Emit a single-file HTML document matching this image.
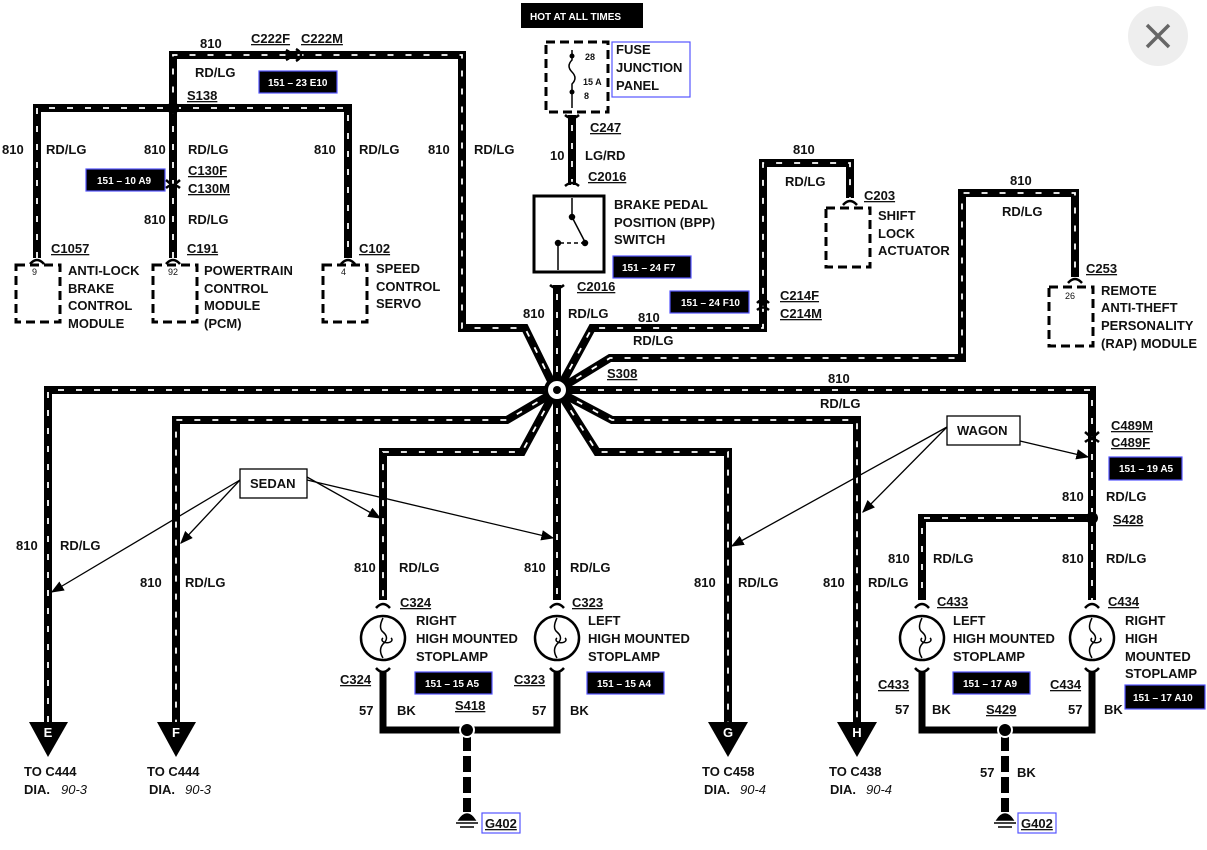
<!DOCTYPE html>
<html><head><meta charset="utf-8"><style>
html,body{margin:0;padding:0;background:#fff;}
svg{display:block;}
text{font-family:"Liberation Sans",sans-serif;font-weight:bold;font-size:13px;fill:#111;}
.w{fill:none;stroke:#000;stroke-width:8;stroke-linejoin:miter;}
.d{fill:none;stroke:#fff;stroke-width:1.8;stroke-dasharray:6 12;}
.g{fill:none;stroke:#000;stroke-width:7;}
.bx{fill:none;stroke:#000;stroke-width:3;stroke-dasharray:9 5;}
.ref{fill:#000;stroke:#55f;stroke-width:1.2;}
.rt{fill:#fff;font-size:10px;}
.ar{stroke:#000;stroke-width:1.3;fill:none;marker-end:url(#a);}
</style></head><body>
<svg width="1207" height="850" viewBox="0 0 1207 850" xmlns="http://www.w3.org/2000/svg">
<defs><marker id="a" markerWidth="10" markerHeight="8" refX="9" refY="4" orient="auto"><path d="M0,0 L10,4 L0,8 z" fill="#000"/></marker>
<path id="p1" d="M553,385 L525,328 L462,328 L462,55 L173,55 L173,108"/>
<path id="p2" d="M37,258 L37,108 L348,108 L348,258"/>
<path id="p3" d="M173,108 L173,258"/>
<path id="p4" d="M557,390 L557,285"/>
<path id="p5" d="M561,385 L592,328 L763,328 L763,163 L850,163 L850,198"/>
<path id="p6" d="M561,388 L610,358 L962,358 L962,193 L1075,193 L1075,277"/>
<path id="p7" d="M48,722 L48,390 L1092,390 L1092,600"/>
<path id="p8" d="M1092,518 L922,518 L922,600"/>
<path id="p9" d="M553,393 L507,420 L176,420 L176,722"/>
<path id="p10" d="M553,395 L522,452 L383,452 L383,600"/>
<path id="p11" d="M557,390 L557,600"/>
<path id="p12" d="M561,395 L597,452 L728,452 L728,722"/>
<path id="p13" d="M561,393 L612,420 L857,420 L857,722"/>
<path id="p14" d="M572,185 L572,115"/>
</defs>
<g class="w">
<use href="#p1"/><use href="#p2"/><use href="#p3"/><use href="#p4"/><use href="#p5"/><use href="#p6"/><use href="#p7"/><use href="#p8"/><use href="#p9"/><use href="#p10"/><use href="#p11"/><use href="#p12"/><use href="#p13"/><use href="#p14"/>
</g>
<g class="d">
<use href="#p1"/><use href="#p2"/><use href="#p3"/><use href="#p4"/><use href="#p5"/><use href="#p6"/><use href="#p7"/><use href="#p8"/><use href="#p9"/><use href="#p10"/><use href="#p11"/><use href="#p12"/><use href="#p13"/><use href="#p14"/>
</g>
<circle cx="557" cy="390" r="11" fill="#fff" stroke="#000" stroke-width="4"/>
<circle cx="557" cy="390" r="4" fill="#000"/>
<circle cx="173" cy="108" r="6" fill="#000"/>
<circle cx="1092" cy="518" r="6" fill="#000"/>

<g stroke="#000" stroke-width="2.5" fill="none">
<path d="M286,50 Q296,55 286,60 M296,49 Q306,55 296,61"/>
<path d="M166,180 L173,186 L180,180 M166,188 Q173,182 180,188"/>
<path d="M757,303 Q763,297 769,303 M757,310 Q763,305 769,310"/>
<path d="M1085,432 L1092,438 L1099,432 M1085,442 Q1092,436 1099,442"/>
<path d="M30,264 Q37,256 44,264 M166,264 Q173,256 180,264 M341,264 Q348,256 355,264 M843,205 Q850,197 857,205 M1068,283 Q1075,275 1082,283"/>
<path d="M565,115 Q572,121 579,115 M565,186 Q572,180 579,186 M550,285 Q557,291 564,285"/>
<path d="M376,608 Q383,600 390,608 M550,608 Q557,600 564,608 M915,608 Q922,600 929,608 M1085,608 Q1092,600 1099,608"/>
<path d="M376,668 Q383,676 390,668 M550,668 Q557,676 564,668 M915,668 Q922,676 929,668 M1085,668 Q1092,676 1099,668"/>
</g>

<path d="M383,672 L383,730 L557,730 L557,672" class="g"/>
<path d="M922,672 L922,730 L1092,730 L1092,672" class="g"/>
<path d="M467,735 L467,812" stroke="#000" stroke-width="8" stroke-dasharray="16 5"/>
<path d="M1005,735 L1005,812" stroke="#000" stroke-width="8" stroke-dasharray="16 5"/>
<circle cx="467" cy="730" r="7" fill="#000" stroke="#fff" stroke-width="2"/>
<circle cx="1005" cy="730" r="7" fill="#000" stroke="#fff" stroke-width="2"/>
<g fill="#000" stroke="#000" stroke-width="1.5">
<path d="M459,820 Q467,808 475,820 z"/><line x1="456" y1="823" x2="478" y2="823"/><line x1="460" y1="827" x2="474" y2="827"/>
<path d="M997,820 Q1005,808 1013,820 z"/><line x1="994" y1="823" x2="1016" y2="823"/><line x1="998" y1="827" x2="1012" y2="827"/>
</g>

<g fill="#fff" stroke="#000" stroke-width="2.5">
<circle cx="383" cy="638" r="22"/><circle cx="557" cy="638" r="22"/><circle cx="922" cy="638" r="22"/><circle cx="1092" cy="638" r="22"/>
</g>
<g fill="none" stroke="#000" stroke-width="1.5">
<path d="M383,618 Q378,628 383,632 Q390,638 383,644 Q378,650 383,658 M383,638 a5,3 0 1,0 8,0"/>
<path d="M557,618 Q552,628 557,632 Q564,638 557,644 Q552,650 557,658 M557,638 a5,3 0 1,0 8,0"/>
<path d="M922,618 Q917,628 922,632 Q929,638 922,644 Q917,650 922,658 M922,638 a5,3 0 1,0 8,0"/>
<path d="M1092,618 Q1087,628 1092,632 Q1099,638 1092,644 Q1087,650 1092,658 M1092,638 a5,3 0 1,0 8,0"/>
</g>

<g fill="#000">
<path d="M29,722 L68,722 L48,757 z"/><path d="M157,722 L196,722 L176,757 z"/>
<path d="M708,722 L748,722 L728,757 z"/><path d="M837,722 L877,722 L857,757 z"/>
</g>
<g style="font-size:11px" text-anchor="middle">
<text x="48" y="737" style="fill:#fff">E</text><text x="176" y="737" style="fill:#fff">F</text>
<text x="728" y="737" style="fill:#fff">G</text><text x="857" y="737" style="fill:#fff">H</text>
</g>

<rect x="16" y="265" width="44" height="57" class="bx"/>
<rect x="153" y="265" width="44" height="57" class="bx"/>
<rect x="323" y="265" width="44" height="57" class="bx"/>
<rect x="826" y="208" width="44" height="59" class="bx"/>
<rect x="1049" y="287" width="44" height="59" class="bx"/>
<rect x="546" y="42" width="62" height="70" class="bx"/>
<text x="32" y="275" style="font-size:9px;font-weight:normal">9</text>
<text x="168" y="275" style="font-size:9px;font-weight:normal">92</text>
<text x="341" y="275" style="font-size:9px;font-weight:normal">4</text>
<text x="1065" y="299" style="font-size:9px;font-weight:normal">26</text>
<g stroke="#000" stroke-width="1.5" fill="none"><path d="M572,50 L572,60 Q566,66 572,72 Q578,78 572,84 L572,108"/></g>
<circle cx="572" cy="56" r="2.5" fill="#000"/><circle cx="572" cy="92" r="2.5" fill="#000"/>
<text x="585" y="60" style="font-size:9px">28</text><text x="583" y="85" style="font-size:9px">15 A</text><text x="584" y="99" style="font-size:9px">8</text>
<rect x="612" y="42" width="78" height="55" fill="none" stroke="#55f" stroke-width="1.2"/>
<rect x="534" y="196" width="70" height="76" fill="none" stroke="#000" stroke-width="3"/>
<g stroke="#000" stroke-width="1.5" fill="#000">
<line x1="572" y1="198" x2="572" y2="215"/><circle cx="572" cy="217" r="2.5"/><line x1="572" y1="217" x2="585" y2="242"/><circle cx="585" cy="243" r="2.5"/>
<line x1="560" y1="243" x2="583" y2="243" stroke-dasharray="4 3"/><circle cx="558" cy="243" r="2.5"/><line x1="558" y1="243" x2="558" y2="270"/>
</g>
<rect x="521" y="3" width="122" height="25" fill="#000"/>
<text x="530" y="20" style="fill:#fff;font-size:10px">HOT AT ALL TIMES</text>

<rect x="259" y="71" width="78" height="22" class="ref"/><text x="268" y="86" class="rt">151 – 23 E10</text>
<rect x="86" y="169" width="79" height="22" class="ref"/><text x="97" y="184" class="rt">151 – 10 A9</text>
<rect x="613" y="256" width="78" height="22" class="ref"/><text x="622" y="271" class="rt">151 – 24 F7</text>
<rect x="670" y="291" width="79" height="22" class="ref"/><text x="681" y="306" class="rt">151 – 24 F10</text>
<rect x="1109" y="457" width="73" height="23" class="ref"/><text x="1119" y="472" class="rt">151 – 19 A5</text>
<rect x="415" y="672" width="77" height="22" class="ref"/><text x="425" y="687" class="rt">151 – 15 A5</text>
<rect x="587" y="672" width="77" height="22" class="ref"/><text x="597" y="687" class="rt">151 – 15 A4</text>
<rect x="953" y="672" width="77" height="22" class="ref"/><text x="963" y="687" class="rt">151 – 17 A9</text>
<rect x="1125" y="685" width="80" height="24" class="ref"/><text x="1133" y="701" class="rt">151 – 17 A10</text>

<rect x="240" y="469" width="67" height="29" fill="#fff" stroke="#000" stroke-width="1.3"/><text x="250" y="488">SEDAN</text>
<rect x="947" y="416" width="73" height="29" fill="#fff" stroke="#000" stroke-width="1.3"/><text x="957" y="435">WAGON</text>
<path class="ar" d="M240,480 L52,592"/><path class="ar" d="M240,480 L181,543"/>
<path class="ar" d="M307,477 L380,518"/><path class="ar" d="M307,480 L553,538"/>
<path class="ar" d="M947,427 L732,546"/><path class="ar" d="M947,427 L863,512"/><path class="ar" d="M1020,441 L1088,457"/>

<circle cx="1158" cy="36" r="30" fill="#eee"/>
<path d="M1147,25 L1169,47 M1169,25 L1147,47" stroke="#666" stroke-width="3.5"/>

<g>
<text x="200" y="48">810</text>
<text x="251" y="43" text-decoration="underline">C222F</text><text x="301" y="43" text-decoration="underline">C222M</text>
<text x="195" y="77">RD/LG</text>
<text x="187" y="100" text-decoration="underline">S138</text>
<text x="2" y="154">810</text><text x="46" y="154">RD/LG</text>
<text x="144" y="154">810</text><text x="188" y="154">RD/LG</text>
<text x="188" y="175" text-decoration="underline">C130F</text><text x="188" y="193" text-decoration="underline">C130M</text>
<text x="144" y="224">810</text><text x="188" y="224">RD/LG</text>
<text x="314" y="154">810</text><text x="359" y="154">RD/LG</text>
<text x="428" y="154">810</text><text x="474" y="154">RD/LG</text>
<text x="51" y="253" text-decoration="underline">C1057</text>
<text x="187" y="253" text-decoration="underline">C191</text>
<text x="359" y="253" text-decoration="underline">C102</text>
<text x="68" y="275">ANTI-LOCK</text><text x="68" y="293">BRAKE</text><text x="68" y="310">CONTROL</text><text x="68" y="328">MODULE</text>
<text x="204" y="275">POWERTRAIN</text><text x="204" y="293">CONTROL</text><text x="204" y="310">MODULE</text><text x="204" y="328">(PCM)</text>
<text x="376" y="273">SPEED</text><text x="376" y="291">CONTROL</text><text x="376" y="308">SERVO</text>
<text x="616" y="54">FUSE</text><text x="616" y="72">JUNCTION</text><text x="616" y="90">PANEL</text>
<text x="590" y="132" text-decoration="underline">C247</text>
<text x="550" y="160">10</text><text x="585" y="160">LG/RD</text>
<text x="588" y="181" text-decoration="underline">C2016</text>
<text x="614" y="209">BRAKE PEDAL</text><text x="614" y="227">POSITION (BPP)</text><text x="614" y="244">SWITCH</text>
<text x="577" y="291" text-decoration="underline">C2016</text>
<text x="523" y="318">810</text><text x="568" y="318">RD/LG</text>
<text x="638" y="322">810</text><text x="633" y="345">RD/LG</text>
<text x="780" y="300" text-decoration="underline">C214F</text><text x="780" y="318" text-decoration="underline">C214M</text>
<text x="793" y="154">810</text><text x="785" y="186">RD/LG</text>
<text x="864" y="200" text-decoration="underline">C203</text>
<text x="878" y="220">SHIFT</text><text x="878" y="238">LOCK</text><text x="878" y="255">ACTUATOR</text>
<text x="1010" y="185">810</text><text x="1002" y="216">RD/LG</text>
<text x="1086" y="273" text-decoration="underline">C253</text>
<text x="1101" y="295">REMOTE</text><text x="1101" y="312">ANTI-THEFT</text><text x="1101" y="330">PERSONALITY</text><text x="1101" y="348">(RAP) MODULE</text>
<text x="607" y="378" text-decoration="underline">S308</text>
<text x="828" y="383">810</text><text x="820" y="408">RD/LG</text>
<text x="1111" y="430" text-decoration="underline">C489M</text><text x="1111" y="447" text-decoration="underline">C489F</text>
<text x="1062" y="501">810</text><text x="1106" y="501">RD/LG</text>
<text x="1113" y="524" text-decoration="underline">S428</text>
<text x="888" y="563">810</text><text x="933" y="563">RD/LG</text>
<text x="1062" y="563">810</text><text x="1106" y="563">RD/LG</text>
<text x="16" y="550">810</text><text x="60" y="550">RD/LG</text>
<text x="140" y="587">810</text><text x="185" y="587">RD/LG</text>
<text x="354" y="572">810</text><text x="399" y="572">RD/LG</text>
<text x="524" y="572">810</text><text x="570" y="572">RD/LG</text>
<text x="694" y="587">810</text><text x="738" y="587">RD/LG</text>
<text x="823" y="587">810</text><text x="868" y="587">RD/LG</text>
<text x="400" y="607" text-decoration="underline">C324</text>
<text x="572" y="607" text-decoration="underline">C323</text>
<text x="416" y="625">RIGHT</text><text x="416" y="643">HIGH MOUNTED</text><text x="416" y="661">STOPLAMP</text>
<text x="588" y="625">LEFT</text><text x="588" y="643">HIGH MOUNTED</text><text x="588" y="661">STOPLAMP</text>
<text x="340" y="684" text-decoration="underline">C324</text><text x="514" y="684" text-decoration="underline">C323</text>
<text x="359" y="715">57</text><text x="397" y="715">BK</text>
<text x="455" y="710" text-decoration="underline">S418</text>
<text x="532" y="715">57</text><text x="570" y="715">BK</text>
<text x="937" y="606" text-decoration="underline">C433</text>
<text x="1108" y="606" text-decoration="underline">C434</text>
<text x="953" y="625">LEFT</text><text x="953" y="643">HIGH MOUNTED</text><text x="953" y="661">STOPLAMP</text>
<text x="1125" y="625">RIGHT</text><text x="1125" y="643">HIGH</text><text x="1125" y="661">MOUNTED</text><text x="1125" y="678">STOPLAMP</text>
<text x="878" y="689" text-decoration="underline">C433</text><text x="1050" y="689" text-decoration="underline">C434</text>
<text x="895" y="714">57</text><text x="932" y="714">BK</text>
<text x="986" y="714" text-decoration="underline">S429</text>
<text x="1068" y="714">57</text><text x="1104" y="714">BK</text>
<text x="980" y="777">57</text><text x="1017" y="777">BK</text>
<text x="24" y="776">TO C444</text><text x="24" y="794">DIA.</text><text x="61" y="794" style="font-style:italic;font-weight:normal">90-3</text>
<text x="147" y="776">TO C444</text><text x="149" y="794">DIA.</text><text x="185" y="794" style="font-style:italic;font-weight:normal">90-3</text>
<text x="702" y="776">TO C458</text><text x="704" y="794">DIA.</text><text x="740" y="794" style="font-style:italic;font-weight:normal">90-4</text>
<text x="829" y="776">TO C438</text><text x="830" y="794">DIA.</text><text x="866" y="794" style="font-style:italic;font-weight:normal">90-4</text>
<rect x="482" y="813" width="38" height="20" fill="none" stroke="#55f" stroke-width="1.2"/><text x="485" y="828" text-decoration="underline">G402</text>
<rect x="1018" y="813" width="38" height="20" fill="none" stroke="#55f" stroke-width="1.2"/><text x="1021" y="828" text-decoration="underline">G402</text>
</g>
</svg>
</body></html>
